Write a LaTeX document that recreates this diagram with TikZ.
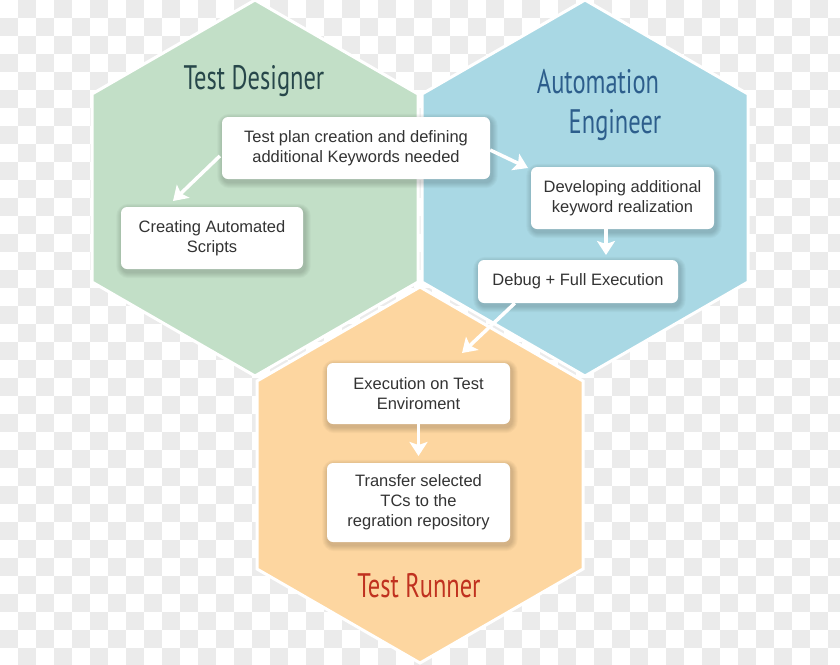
\documentclass[tikz,border=0pt]{standalone}
\usepackage{fontspec}
\setmainfont{Liberation Sans}
\newfontfamily\titlefont[FakeStretch=0.72]{PT Sans}
\usetikzlibrary{arrows.meta}
\pgfdeclarelayer{back}
\pgfdeclarelayer{shd}
\pgfsetlayers{back,shd,main}
\definecolor{chk}{HTML}{EBEBEB}
\definecolor{hexgreen}{HTML}{C2DFC7}
\definecolor{hexblue}{HTML}{A9D8E4}
\definecolor{hexorange}{HTML}{FDD6A0}
\definecolor{tdesigner}{HTML}{27474A}
\definecolor{tengineer}{HTML}{2D5E8C}
\definecolor{trunner}{HTML}{C0311F}
\definecolor{boxtext}{HTML}{333333}
\tikzset{
  hexa/.style={draw=white, line width=3pt, line join=miter},
  card/.style={fill=white, rounded corners=6pt, inner sep=2pt, align=center,
    text=boxtext, font=\fontsize{16.5}{20}\selectfont},
  title/.style={font=\titlefont\fontsize{34}{40}\selectfont, anchor=base, inner sep=0pt},
  arr/.style={draw=white, line width=3.5pt, -{Stealth[length=14pt,width=18pt,inset=3pt]}}
}
\newcommand{\softshadow}[1]{%
  \begin{pgfonlayer}{shd}
  \foreach \k in {1,...,6}{
    \fill[black, opacity=0.028, rounded corners={6pt+\k pt}]
      ([xshift={1.5pt-\k pt}, yshift={-3pt-\k pt}]#1.south west) rectangle
      ([xshift={1.5pt+\k pt}, yshift={-3pt+\k pt}]#1.north east);
  }
  \end{pgfonlayer}}
\begin{document}
\begin{tikzpicture}[x=1pt,y=-1pt]
\useasboundingbox (0,0) rectangle (840,664);
\begin{pgfonlayer}{back}
% checkerboard background
\fill[white] (0,0) rectangle (840,664);
\foreach \i in {0,...,46}{
  \foreach \j in {0,...,36}{
    \pgfmathparse{int(mod(\i+\j,2))}
    \ifnum\pgfmathresult=1
      \fill[chk] (\i*18,\j*18) rectangle ++(18,18);
    \fi
  }
}
% hexagons
\foreach \cx/\cy/\col in {255/188/hexgreen, 585/188/hexblue, 420/475/hexorange}{
  \path[hexa, fill=\col] (\cx,\cy-188) -- (\cx+163,\cy-94) -- (\cx+163,\cy+94)
     -- (\cx,\cy+188) -- (\cx-163,\cy+94) -- (\cx-163,\cy-94) -- cycle;
}
\end{pgfonlayer}
% titles
\node[title, text=tdesigner] (tdes) at (254,89) {Test Designer};
\node[title, text=tengineer] (teng1) at (598,93) {Automation};
\node[title, text=tengineer] (teng2) at (615,133) {Engineer};
\node[title, text=trunner] (trun) at (419,597) {Test Runner};
% cards
\node[card, minimum width=268pt, minimum height=62pt] (b1) at (356,148)
  {Test plan creation and defining\\additional Keywords needed};
\node[card, minimum width=182pt, minimum height=62pt] (b2) at (212,238)
  {Creating Automated\\Scripts};
\node[card, minimum width=183pt, minimum height=62pt] (b3) at (622.5,198)
  {Developing additional\\keyword realization};
\node[card, minimum width=200pt, minimum height=43pt] (b4) at (578,281.5)
  {Debug + Full Execution};
\node[card, minimum width=183pt, minimum height=61pt] (b5) at (418.5,393.5)
  {Execution on Test\\Enviroment};
\node[card, minimum width=183pt, minimum height=79pt] (b6) at (418.5,502.5)
  {Transfer selected\\TCs to the\\regration repository};
\softshadow{b1}\softshadow{b2}\softshadow{b3}
\softshadow{b4}\softshadow{b5}\softshadow{b6}
% arrow tips
\coordinate (t1) at (173,201);
\coordinate (t2) at (528,168);
\coordinate (t3) at (606,255);
\coordinate (t4) at (462,353);
\coordinate (t5) at (418.5,456);
% arrows
\draw[arr] ([xshift=-2pt,yshift=-8pt]b1.west) -- (t1);
\draw[arr] ([yshift=-2pt]b1.east) -- (t2);
\draw[arr] ([xshift=-16.5pt]b3.south) -- (t3);
\draw[arr] ([xshift=37pt]b4.south west) -- (t4);
\draw[arr] (b5.south) -- (t5);
\end{tikzpicture}
\end{document}
